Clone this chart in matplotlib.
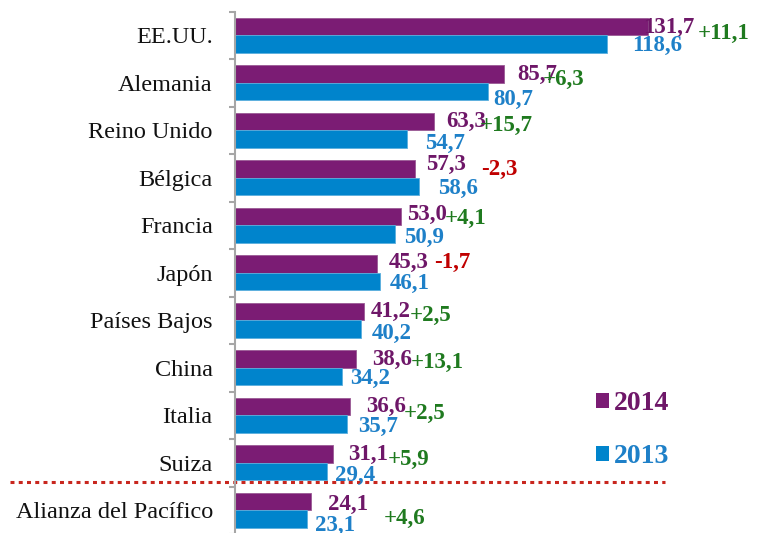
import numpy as np
import matplotlib
matplotlib.use("Agg")
import matplotlib.pyplot as plt
from matplotlib.patches import Patch
import matplotlib.transforms as mtransforms

categories = ["EE.UU.", "Alemania", "Reino Unido", "Bélgica", "Francia", "Japón",
              "Países Bajos", "China", "Italia", "Suiza", "Alianza del Pacífico"]
values_2014 = [131.7, 85.7, 63.3, 57.3, 53.0, 45.3, 41.2, 38.6, 36.6, 31.1, 24.1]
values_2013 = [118.6, 80.7, 54.7, 58.6, 50.9, 46.1, 40.2, 34.2, 35.7, 29.4, 23.1]
changes = [11.1, 6.3, 15.7, -2.3, 4.1, -1.7, 2.5, 13.1, 2.5, 5.9, 4.6]
series_labels = ["2014", "2013"]

# label placement tweaks (pixels)
dx14 = [-5, 13, 13, 11, 6, 12, 7, 16, 16, 16, 17]
dy14 = [-1, -1, -0.5, 4, 1.5, 1, -0.5, -1, -0.5, -1, -3.5]
dx13 = [25, 5, 19, 19, 9, 10, 11, 8, 11, 8, 8]
dy13 = [-1, -7.5, -4, -1.5, -3, -1.5, -4, -1.5, -2, -3.5, -6]
dxc = [50, 39, 46, 66, 44, 57, 46, 55, 54, 55, 73]
dyc = [2, 3, 5, 8, 7, 10, 5, 5, 2, 3, -8]

PURPLE = "#7B1C74"
BLUE = "#0084CC"
PURPLE_T = "#6E1768"
BLUE_T = "#1E80C8"
GREEN = "#1F7A1F"
RED = "#C00000"
GRAY = "#A6A6A6"

fig = plt.figure(figsize=(7.6, 5.33), dpi=100)
ax = fig.add_axes([235 / 760, -1 / 533, 525 / 760, 522.5 / 533])

n = len(categories)
y = np.arange(n)
h = 0.37
ax.barh(y - h / 2, values_2014, height=h, color=PURPLE, edgecolor="#9A5A95", linewidth=0.6, label=series_labels[0])
ax.barh(y + h / 2, values_2013, height=h, color=BLUE, edgecolor="#5AAEDD", linewidth=0.6, label=series_labels[1])

ax.set_xlim(0, 525 / 3.136)
ax.set_ylim(n - 0.5, -0.5)

fmt = lambda v: f"{v:.1f}".replace(".", ",")
vfont = dict(family="Liberation Serif", fontweight="bold", fontsize=16.5)
for i in range(n):
    ax.annotate(fmt(values_2014[i]), (values_2014[i], y[i] - h / 2), xytext=(dx14[i], dy14[i]),
                textcoords="offset pixels", ha="left", va="center", color=PURPLE_T, **vfont)
    ax.annotate(fmt(values_2013[i]), (values_2013[i], y[i] + h / 2), xytext=(dx13[i], dy13[i]),
                textcoords="offset pixels", ha="left", va="center", color=BLUE_T, **vfont)
    c = changes[i]
    txt = ("+" if c > 0 else "-") + fmt(abs(c))
    ax.annotate(txt, (values_2014[i], y[i]), xytext=(dxc[i], dyc[i]),
                textcoords="offset pixels", ha="left", va="center",
                color=GREEN if c > 0 else RED, zorder=5, **vfont)

# axes styling
for s in ["top", "right", "bottom"]:
    ax.spines[s].set_visible(False)
ax.spines["left"].set_color(GRAY)
ax.spines["left"].set_linewidth(1.5)
ax.set_xticks([])
ax.set_yticks(np.arange(-0.5, n, 1.0))
ax.set_yticklabels([])
ax.tick_params(axis="y", which="major", length=4, width=1.5, color=GRAY)
ax.set_yticks(y, minor=True)
ax.set_yticklabels(categories, minor=True, family="Liberation Serif", fontsize=17.5, color="#111111")
ax.tick_params(axis="y", which="minor", length=0, pad=16)

# dotted red separator
trans = mtransforms.blended_transform_factory(fig.transFigure, ax.transData)
ax.plot([10 / 760, 665 / 760], [n - 1.6, n - 1.6], transform=trans, color="#C8261E",
        linewidth=2.2, linestyle=(0, (1.3, 1.4)), dash_capstyle="butt", clip_on=False)

# legend
handles = [Patch(facecolor=PURPLE), Patch(facecolor=BLUE)]
leg = ax.legend(handles, series_labels, loc="upper left", bbox_to_anchor=(596 / 760, 1 - 391 / 533),
                bbox_transform=fig.transFigure, frameon=False, borderpad=0, borderaxespad=0,
                handlelength=0.45, handleheight=0.45, handletextpad=0.2, labelspacing=1.02,
                prop=dict(family="Liberation Serif", weight="bold", size=20))
for t, col in zip(leg.get_texts(), [PURPLE_T, BLUE_T]):
    t.set_color(col)

fig.savefig("out.png", dpi=100)
